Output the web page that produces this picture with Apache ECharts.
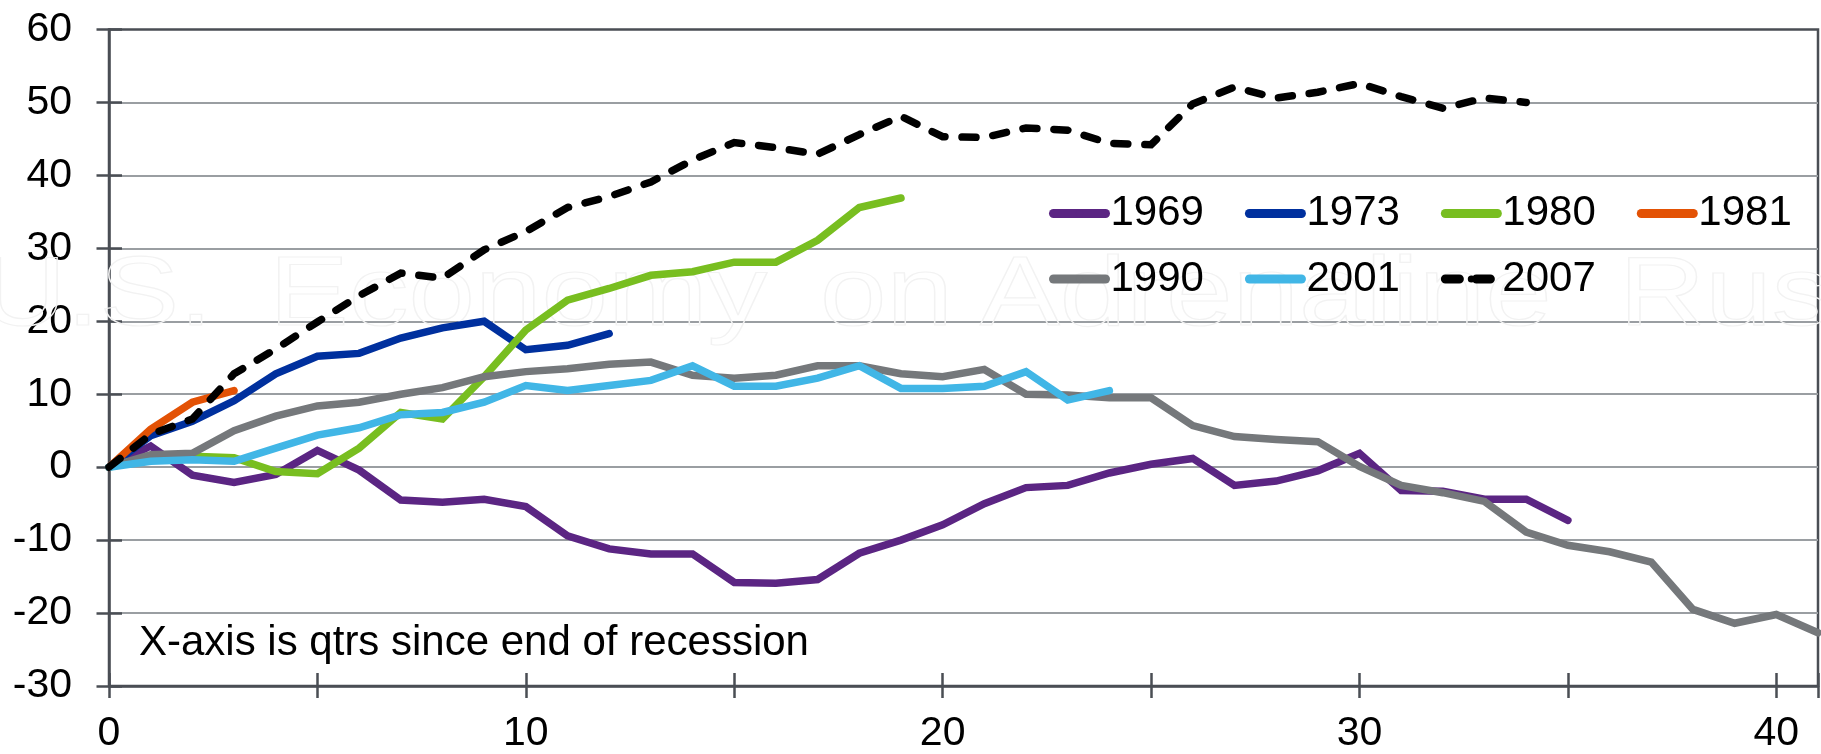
<!DOCTYPE html>
<html>
<head>
<meta charset="utf-8">
<script src="https://cdn.jsdelivr.net/npm/echarts@6/dist/echarts.min.js"></script>
<style>
  html, body { margin: 0; padding: 0; background: #fff; }
  #chart { width: 1821px; height: 754px; }
</style>
</head>
<body>
<div id="chart"></div>
<script>
// values by quarter since end of recession (index = quarter)
const s1969 = [0, 2.9, -1.1, -2.1, -1.0, 2.3, -0.4, -4.5, -4.8, -4.4, -5.4, -9.4, -11.2, -11.9, -11.9, -15.8, -15.9, -15.4, -11.8, -10.0, -7.9, -5.0, -2.8, -2.5, -0.8, 0.4, 1.2, -2.5, -1.9, -0.5, 1.9, -3.2, -3.3, -4.4, -4.4, -7.3];
const s1973 = [0, 4.3, 6.3, 9.1, 12.8, 15.2, 15.6, 17.7, 19.1, 20.0, 16.1, 16.7, 18.3];
const s1980 = [0, 1.2, 1.5, 1.3, -0.6, -0.9, 2.6, 7.5, 6.6, 12.4, 18.8, 22.9, 24.5, 26.3, 26.8, 28.1, 28.1, 31.1, 35.6, 36.9];
const s1981 = [0, 5.2, 8.9, 10.5];
const s1990 = [0, 1.7, 1.9, 5.0, 7.0, 8.4, 8.9, 10.0, 10.9, 12.4, 13.1, 13.5, 14.1, 14.4, 12.6, 12.2, 12.6, 13.9, 13.9, 12.8, 12.4, 13.4, 10.0, 9.9, 9.5, 9.5, 5.7, 4.2, 3.8, 3.5, 0.1, -2.5, -3.5, -4.7, -8.9, -10.7, -11.6, -13.0, -19.5, -21.4, -20.2, -22.7];
const s2001 = [0, 0.8, 1.0, 0.8, 2.6, 4.4, 5.4, 7.2, 7.5, 8.9, 11.2, 10.5, 11.2, 11.9, 13.9, 11.1, 11.1, 12.2, 13.9, 10.8, 10.8, 11.1, 13.1, 9.2, 10.5];
const s2007 = [0, 4.5, 6.6, 12.8, 16.2, 19.9, 23.5, 26.6, 25.9, 29.8, 32.3, 35.6, 37.1, 39.1, 42.1, 44.5, 43.8, 42.9, 45.6, 48.1, 45.3, 45.2, 46.5, 46.2, 44.4, 44.2, 49.8, 52.1, 50.6, 51.4, 52.6, 50.8, 49.2, 50.6, 50.0];

const seriesNames = ["1969", "1973", "1980", "1981", "1990", "2001", "2007"];
const seriesValues = [s1969, s1973, s1980, s1981, s1990, s2001, s2007];
const seriesColors = ["#5b2583", "#00309e", "#78be20", "#e35205", "#75787b", "#41b6e6", "#000000"];

const note = "X-axis is qtrs since end of recession";
const watermark = ["U.S.", "Economy", "on", "Adrenaline", "Rush"];
const watermarkX = [-20, 269, 820, 980, 1619];

const FONT = '"Liberation Sans", Arial, sans-serif';
const AXIS = "#4a4e54";

var myChart = echarts.init(document.getElementById("chart"));

const series = seriesNames.map((name, i) => ({
  name: name,
  type: "line",
  symbol: "none",
  data: seriesValues[i].map((v, q) => [q, v]),
  lineStyle: {
    color: seriesColors[i],
    width: 7.5,
    cap: "round",
    join: "miter",
    type: name === "2007" ? [14, 17] : "solid",
  },
  itemStyle: { color: seriesColors[i] },
  z: 2 + i,
}));

const legendBase = {
  left: 1049,
  orient: "horizontal",
  itemWidth: 52,
  itemHeight: 9,
  itemGap: 41,
  padding: 0,
  selectedMode: false,
  textStyle: { fontSize: 42, color: "#000", fontFamily: FONT },
  lineStyle: { width: 9, cap: "round" },
};

// faint background watermark
const wmGraphics = watermark.map((w, i) => ({
  type: "text",
  x: watermarkX[i],
  y: 298,
  scaleX: 1.22,
  z: 1,
  silent: true,
  style: {
    text: w,
    font: "98px " + FONT,
    fill: "rgba(0,0,0,0)",
    stroke: "#f2f2f2",
    lineWidth: 1.2,
    verticalAlign: "middle",
  },
}));

myChart.setOption({
  animation: false,
  backgroundColor: "#fff",
  grid: {
    left: 109,
    right: 3,
    top: 29.5,
    bottom: 68,
    show: true,
    borderColor: AXIS,
    borderWidth: 2.5,
    backgroundColor: "transparent",
    containLabel: false,
    outerBoundsMode: "none",
  },
  legend: [
    Object.assign({}, legendBase, { top: 192.5, data: ["1969", "1973", "1980", "1981"] }),
    Object.assign({}, legendBase, { top: 258, data: ["1990", "2001", "2007"] }),
  ],
  xAxis: [
    {
      type: "value",
      min: 0,
      max: 41,
      interval: 5,
      position: "bottom",
      axisLine: { show: true, onZero: false, lineStyle: { color: AXIS, width: 2.5 } },
      axisTick: { show: true, inside: false, length: 12, lineStyle: { color: AXIS, width: 2.5 } },
      axisLabel: {
        margin: 27,
        fontSize: 41,
        color: "#000",
        fontFamily: FONT,
        formatter: (v) => (v % 10 === 0 ? String(v) : ""),
      },
      splitLine: { show: false },
    },
    {
      type: "value",
      min: 0,
      max: 41,
      interval: 5,
      position: "bottom",
      axisLine: { show: false, onZero: false },
      axisTick: { show: true, inside: true, length: 13, lineStyle: { color: AXIS, width: 2.5 } },
      axisLabel: { show: false },
      splitLine: { show: false },
    },
  ],
  yAxis: [
    {
      type: "value",
      min: -30,
      max: 60,
      interval: 10,
      position: "left",
      axisLine: { show: true, onZero: false, lineStyle: { color: AXIS, width: 2.5 } },
      axisTick: { show: true, inside: false, length: 12.5, lineStyle: { color: AXIS, width: 2.5 } },
      axisLabel: { margin: 37, fontSize: 41, color: "#000", fontFamily: FONT },
      splitLine: {
        show: true,
        showMinLine: false,
        showMaxLine: false,
        lineStyle: { color: "#9a9ea2", width: 2 },
      },
    },
    {
      type: "value",
      min: -30,
      max: 60,
      interval: 10,
      position: "left",
      offset: 0,
      axisLine: { show: false, onZero: false },
      axisTick: { show: true, inside: true, length: 13, lineStyle: { color: AXIS, width: 2.5 } },
      axisLabel: { show: false },
      splitLine: { show: false },
    },
  ],
  graphic: wmGraphics.concat([
    {
      type: "text",
      x: 139,
      y: 643,
      z: 10,
      style: {
        text: note,
        font: "42px " + FONT,
        fill: "#000",
        verticalAlign: "middle",
      },
    },
  ]),
  series: series,
});
</script>
</body>
</html>
